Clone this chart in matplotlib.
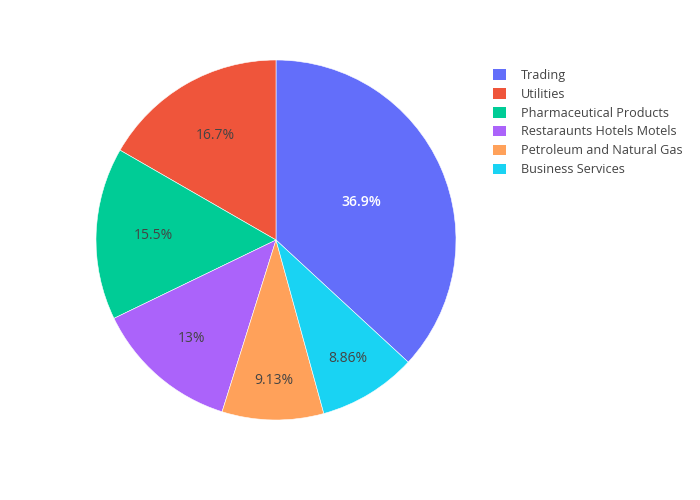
import matplotlib
matplotlib.use("Agg")
import matplotlib.pyplot as plt
import matplotlib.patches as mpatches
import numpy as np

# data (legend order, percent of total)
sectors = [
    "Trading",
    "Utilities",
    "Pharmaceutical Products",
    "Restaraunts Hotels Motels",
    "Petroleum and Natural Gas",
    "Business Services",
]
shares = [36.9, 16.7, 15.5, 13.0, 9.13, 8.86]
pct_labels = ["36.9%", "16.7%", "15.5%", "13%", "9.13%", "8.86%"]

colors = ["#636efa", "#EF553B", "#00cc96", "#ab63fa", "#FFA15A", "#19d3f3"]
label_colors = ["white", "#444444", "#444444", "#444444", "#444444", "#444444"]
label_radius = [0.52, 0.67, 0.68, 0.72, 0.78, 0.77]

plt.rcParams["font.family"] = ["Open Sans", "DejaVu Sans"]

fig = plt.figure(figsize=(7, 5), dpi=100)
ax = fig.add_axes([96 / 700, 80 / 500, 360 / 700, 360 / 500])

total = sum(shares)
start = 90 - 360 * shares[0] / total  # first slice ends at 12 o'clock
wedges, _ = ax.pie(
    shares,
    colors=colors,
    startangle=start,
    counterclock=True,
    radius=1.0,
    wedgeprops=dict(linewidth=0.4, edgecolor="white"),
)

for w, txt, c, r in zip(wedges, pct_labels, label_colors, label_radius):
    mid = np.deg2rad((w.theta1 + w.theta2) / 2)
    ax.text(r * np.cos(mid), r * np.sin(mid), txt, ha="center", va="center",
            fontsize=10, color=c,
            fontweight="semibold" if c == "white" else "normal")

ax.set_xlim(-1, 1)
ax.set_ylim(-1, 1)
ax.set_aspect("equal")
ax.axis("off")

handles = [mpatches.Patch(facecolor=c, edgecolor="none") for c in colors]
fig.legend(
    handles, sectors,
    loc="upper left",
    bbox_to_anchor=(488 / 700, 1 - 64 / 500),
    frameon=False,
    fontsize=9.1,
    labelcolor="#444444",
    handlelength=1.0,
    handleheight=0.9,
    handletextpad=1.2,
    labelspacing=0.46,
    borderaxespad=0,
)

fig.savefig("out.png", dpi=100)
